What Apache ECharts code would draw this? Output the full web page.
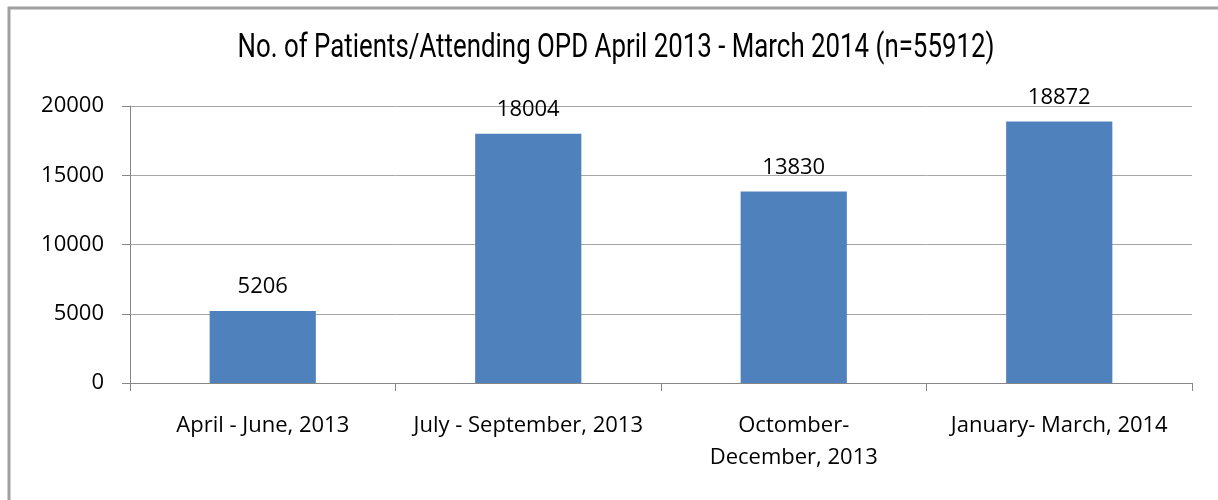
<!DOCTYPE html>
<html>
<head>
	<meta charset="UTF-8">
	<script type="text/javascript" src="https://cdn.jsdelivr.net/npm/echarts@6/dist/echarts.min.js"></script>
	<title></title>
	<style type="text/css">
		html,body{
			margin:0;
			padding:0;
			background:#fff;
		}
		#opd_box{
			width:1218px;
			height:500px;
		}
	</style>
</head>
<body>
<div id="opd_box"></div>
<script type="text/javascript">
// 数据
var quarters = ['April - June, 2013', 'July - September, 2013', 'Octomber-\nDecember, 2013', 'January- March, 2014'];
var patients = [5206, 18004, 13830, 18872];
var yTicks = [0, 5000, 10000, 15000, 20000];
var titleText = 'No. of Patients/Attending OPD April 2013 - March 2014 (n=55912)';

// 标题用窄字体效果：量一下宽度再横向压缩
var titleFont = 'normal 34px Roboto';
var cv = document.createElement('canvas').getContext('2d');
cv.font = titleFont;
var titleScale = 757 / cv.measureText(titleText).width;

var opd_box = echarts.init(document.getElementById('opd_box'));
option = {
    animation: false,
    graphic: [{
        // 外框
        type: 'rect',
        shape: {x: 9, y: 8, width: 1400, height: 700},
        style: {fill: 'none', stroke: '#a0a0a0', lineWidth: 3},
        silent: true
    }, {
        type: 'text',
        x: 616,
        y: 48,
        scaleX: titleScale,
        style: {
            text: titleText,
            font: titleFont,
            fill: '#000',
            textAlign: 'center',
            textVerticalAlign: 'middle'
        },
        silent: true
    }],
    grid: {
        left: 130,
        right: 26,
        top: 106,
        bottom: 117
    },
    xAxis: {
        type: 'category',
        data: quarters,
        axisLine: {lineStyle: {color: '#868686', width: 1}},
        axisTick: {show: true, length: 8, lineStyle: {color: '#868686'}},
        axisLabel: {
            margin: 27,
            color: '#000',
            fontFamily: 'Open Sans',
            fontSize: 22,
            lineHeight: 32,
            interval: 0
        }
    },
    yAxis: {
        type: 'value',
        min: yTicks[0],
        max: yTicks[yTicks.length - 1],
        interval: yTicks[1] - yTicks[0],
        axisLine: {show: true, lineStyle: {color: '#868686', width: 1}},
        axisTick: {show: true, inside: false, length: 8, lineStyle: {color: '#868686'}},
        splitLine: {lineStyle: {color: '#a6a6a6', width: 1}},
        axisLabel: {
            margin: 26,
            color: '#000',
            fontFamily: 'Open Sans',
            fontSize: 22,
            formatter: function (v) { return String(v); }
        }
    },
    series: [{
        name: 'Patients',
        type: 'bar',
        data: patients,
        barWidth: '40%',
        itemStyle: {color: '#4f81bd'},
        label: {
            show: true,
            position: 'top',
            distance: 13,
            color: '#000',
            fontFamily: 'Open Sans',
            fontSize: 22
        }
    }]
};
opd_box.setOption(option);
</script>
</body>
</html>
